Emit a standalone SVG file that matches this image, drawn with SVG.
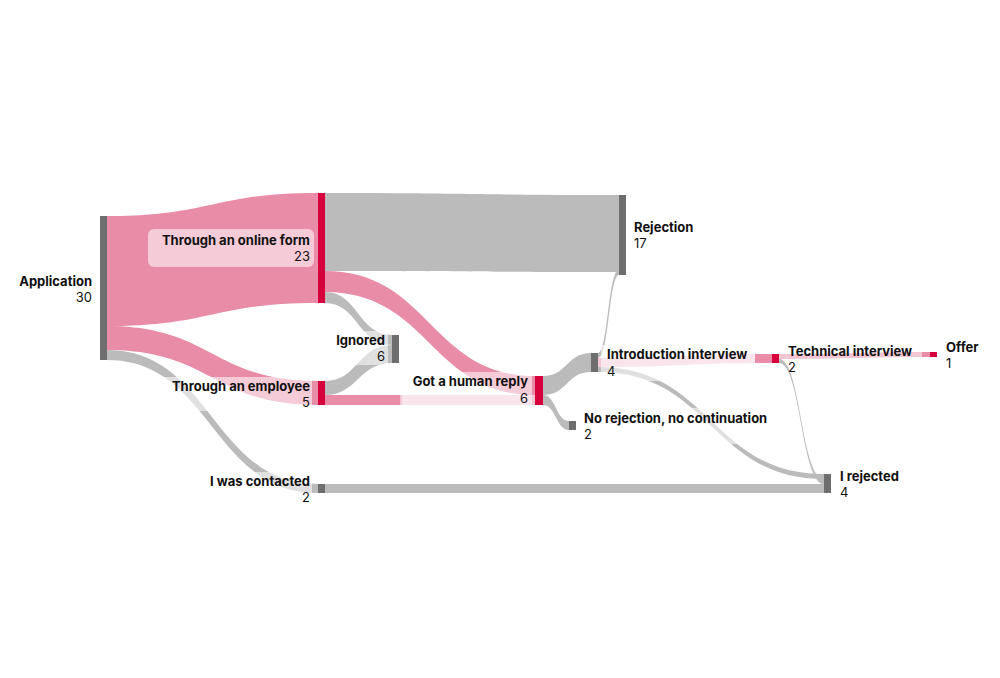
<svg xmlns="http://www.w3.org/2000/svg" width="1000" height="678" viewBox="0 0 1000 678">
<style>
.pk{fill:#e88ca7}.lp{fill:#f4c6d4}.gr{fill:#bbbbbb}
.ng{fill:#6e6e6e}.nr{fill:#d5003c}
text{font-family:Inter,"Liberation Sans",sans-serif;font-size:13px;fill:#111}
.b{font-weight:bold}.e{text-anchor:end}
.hl{fill:#fff;opacity:.55}
</style>
<rect width="1000" height="678" fill="#fff"/>
<g id="links">
<path class="pk" d="M107 216 C212 216,212 193,318 193 L318 303 C212 303,212 326,107 326 Z"/>
<path class="pk" d="M107 326 C212 326,212 381,318 381 L318 405 C212 405,212 350,107 350 Z"/>
<path class="gr" d="M107 350 C212 350,212 484,318 484 L318 493 C212 493,212 360,107 360 Z"/>
<path class="gr" d="M325 193 C472 193,472 195,619 195 L619 272 C472 272,472 271,325 271 Z"/>
<path class="pk" d="M325 271 C430 271,430 376,535 376 L535 395 C430 395,430 292,325 292 Z"/>
<path class="gr" d="M325 292 C358 292,358 335,392 335 L392 345 C358 345,358 303,325 303 Z"/>
<path class="gr" d="M325 381 C358 381,358 345,392 345 L392 363 C358 363,358 395,325 395 Z"/>
<path class="pk" d="M325 395 C430 395,430 395,535 395 L535 405 C430 405,430 405,325 405 Z"/>
<path class="lp" d="M400 395 L535 395 L535 405 L400 405 Z"/>
<path class="gr" d="M543 376 C567 376,567 353,591 353 L591 372 C567 372,567 395,543 395 Z"/>
<path class="gr" d="M543 395 C556 395,556 421,569 421 L569 430 C556 430,556 405,543 405 Z"/>
<path class="gr" d="M598 353 C608 353,608 270,619 270 L619 275 C609 275,609 358,598 358 Z"/>
<path class="lp" d="M598 358 C685 358,685 354,772 354 L772 363 C685 363,685 367,598 367 Z"/>
<path class="pk" d="M755 354 L772 354 L772 363 L755 363 Z"/>
<path class="gr" d="M598 367 C711 367,711 474,824 474 L824 479 C711 479,711 372,598 372 Z"/>
<path class="gr" d="M779 359 C801 359,801 479,824 479 L824 484 C801 484,801 363,779 363 Z"/>
<path class="lp" d="M779 354 C855 354,855 352,930 352 L930 357 C855 357,855 359,779 359 Z"/>
<path class="pk" d="M922 352 L930 352 L930 357 L922 357 Z"/>
<path class="gr" d="M325 484 C575 484,575 484,824 484 L824 493 C575 493,575 493,325 493 Z"/>
</g>
<g id="labelbg">
<rect class="hl" x="148" y="229" width="166" height="38" rx="6"/>
<rect class="hl" x="162" y="377" width="150" height="34"/>
<rect class="hl" x="328" y="331" width="60" height="34"/>
<rect class="hl" x="402" y="372" width="130" height="36"/>
<rect class="hl" x="200" y="472" width="112" height="34"/>
<rect class="hl" x="601" y="345" width="154" height="36"/>
<rect class="hl" x="580" y="408" width="196" height="36"/>
</g>
<g id="n-application"><rect class="ng" x="100" y="216" width="7" height="144"/><text class="b e" x="92" y="286">Application</text><text class="e" x="92" y="302">30</text></g>
<g id="n-online"><rect class="nr" x="318" y="193" width="7" height="110"/><text class="b e" x="310" y="245">Through an online form</text><text class="e" x="310" y="261">23</text></g>
<g id="n-employee"><rect class="nr" x="318" y="381" width="7" height="24"/><text class="b e" x="310" y="391">Through an employee</text><text class="e" x="310" y="407">5</text></g>
<g id="n-contacted"><rect class="ng" x="318" y="484" width="7" height="9"/><text class="b e" x="310" y="486">I was contacted</text><text class="e" x="310" y="502">2</text></g>
<g id="n-ignored"><rect class="ng" x="392" y="335" width="7" height="28"/><text class="b e" x="385" y="345">Ignored</text><text class="e" x="385" y="361">6</text></g>
<g id="n-human"><rect class="nr" x="535" y="376" width="8" height="29"/><text class="b e" x="528" y="386">Got a human reply</text><text class="e" x="528" y="403">6</text></g>
<g id="n-rejection"><rect class="ng" x="619" y="195" width="7" height="80"/><text class="b" x="634" y="232">Rejection</text><text x="634" y="248">17</text></g>
<g id="n-intro"><rect class="ng" x="591" y="353" width="7" height="19"/><text class="b" x="607" y="359">Introduction interview</text><text x="607" y="376">4</text></g>
<g id="n-norej"><rect class="ng" x="569" y="421" width="7" height="9"/><text class="b" x="584" y="423">No rejection, no continuation</text><text x="584" y="439">2</text></g>
<g id="n-tech"><rect class="nr" x="772" y="354" width="7" height="9"/><text class="b" x="788" y="356">Technical interview</text><text x="788" y="372">2</text></g>
<g id="n-offer"><rect class="nr" x="930" y="352" width="7" height="5"/><text class="b" x="946" y="352">Offer</text><text x="946" y="368">1</text></g>
<g id="n-irejected"><rect class="ng" x="824" y="474" width="7" height="19"/><text class="b" x="840" y="481">I rejected</text><text x="840" y="497">4</text></g>
</svg>
